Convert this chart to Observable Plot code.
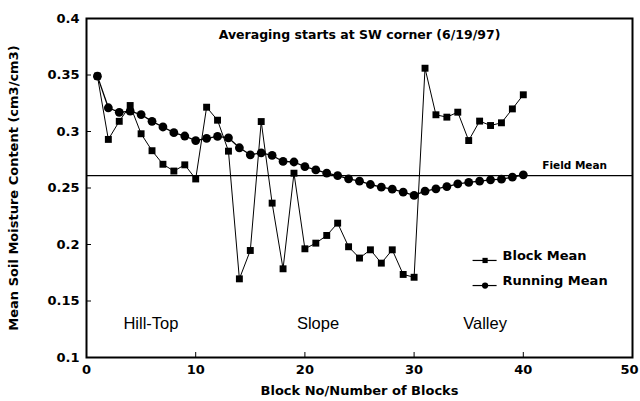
<!DOCTYPE html>
<html>
<head>
<meta charset="utf-8">
<script src="https://cdn.jsdelivr.net/npm/d3@7"></script>
<script src="https://cdn.jsdelivr.net/npm/@observablehq/plot@0.6"></script>
<style>
  html, body { margin: 0; padding: 0; background: #fff; }
</style>
</head>
<body>
<div id="chart"></div>
<script>
const blockNo = d3.range(1, 41);
const blockMean = [0.349, 0.293, 0.309, 0.323, 0.298, 0.283, 0.271, 0.265, 0.2705, 0.258,
  0.3215, 0.310, 0.2826, 0.1696, 0.1947, 0.3088, 0.2366, 0.1785, 0.2631, 0.1962,
  0.2012, 0.208, 0.2189, 0.198, 0.188, 0.1953, 0.1835, 0.1953, 0.1735, 0.171,
  0.356, 0.3148, 0.3127, 0.3171, 0.292, 0.3092, 0.3053, 0.3077, 0.320, 0.3325];
const runningMean = [0.349, 0.321, 0.317, 0.318, 0.315, 0.309, 0.304, 0.299, 0.296, 0.292,
  0.294, 0.2956, 0.2944, 0.2856, 0.2794, 0.2811, 0.2788, 0.2735, 0.273, 0.269,
  0.266, 0.2631, 0.261, 0.2581, 0.256, 0.2531, 0.2507, 0.249, 0.2463, 0.2434,
  0.2472, 0.2493, 0.2513, 0.2537, 0.2549, 0.256, 0.2572, 0.2578, 0.2596, 0.2617];
const fieldMean = 0.261;
const xTicks = [0, 10, 20, 30, 40, 50];
const yTicks = [0.1, 0.15, 0.2, 0.25, 0.3, 0.35, 0.4];
const yTickLabels = ["0.1", "0.15", "0.2", "0.25", "0.3", "0.35", "0.4"];
const regions = ["Hill-Top", "Slope", "Valley"];
const regionX = [5.9, 21.2, 36.5];
const regionY = 0.13;
const titleText = "Averaging starts at SW corner (6/19/97)";
const xTitle = "Block No/Number of Blocks";
const yTitle = "Mean Soil Moisture Content (cm3/cm3)";
const legendNames = ["Block Mean", "Running Mean"];
const legendY = [0.1903, 0.1681];

const blocks = blockNo.map((b, i) => ({b, v: blockMean[i]}));
const running = blockNo.map((b, i) => ({b, v: runningMean[i]}));
const legend = legendNames.map((name, i) => ({name, y: legendY[i], symbol: i === 0 ? "square" : "circle"}));

const W = 640, H = 401, ML = 86, MR = 8, MT = 18, MB = 44;
const plotW = W - ML - MR, plotH = H - MT - MB, tickLen = 5;
const bold = "DejaVu Sans, Liberation Sans, Arial, sans-serif";
const lastX = xTicks[xTicks.length - 1];

const chart = Plot.plot({
  width: W,
  height: H,
  marginLeft: ML,
  marginRight: MR,
  marginTop: MT,
  marginBottom: MB,
  style: {background: "#fff", fontFamily: bold, fontWeight: "bold", fontSize: "13px", color: "#000"},
  x: {domain: [0, 50]},
  y: {domain: [0.1, 0.4]},
  marks: [
    Plot.axisX({ticks: xTicks.slice(0, -1), tickSize: 0, tickPadding: 7, tickFormat: d => String(d),
      label: xTitle, labelAnchor: "center", labelArrow: "none", labelOffset: 37, fontSize: 13, fontWeight: "bold"}),
    Plot.axisX({ticks: [lastX], tickSize: 0, tickPadding: 7, tickFormat: d => String(d), dx: -3,
      label: null, fontSize: 13, fontWeight: "bold"}),
    Plot.axisY({ticks: yTicks, tickSize: 0, tickPadding: 7, tickFormat: d => yTickLabels[yTicks.indexOf(d)],
      label: yTitle, labelAnchor: "center", labelArrow: "none", labelOffset: 78, fontSize: 13, fontWeight: "bold"}),
    Plot.tickY(yTicks, {y: d => d, insetRight: plotW - tickLen, stroke: "#000", strokeWidth: 1}),
    Plot.tickX(xTicks, {x: d => d, insetTop: plotH - tickLen, stroke: "#000", strokeWidth: 1}),
    Plot.ruleY([fieldMean], {stroke: "#000", strokeWidth: 1.3}),
    Plot.line(blocks, {x: "b", y: "v", stroke: "#000", strokeWidth: 1}),
    Plot.dot(blocks, {x: "b", y: "v", symbol: "square", r: 3.9, fill: "#000", stroke: "none"}),
    Plot.line(running, {x: "b", y: "v", stroke: "#000", strokeWidth: 1.3}),
    Plot.dot(running, {x: "b", y: "v", symbol: "circle", r: 4.4, fill: "#000", stroke: "none"}),
    Plot.text([titleText], {frameAnchor: "top", dx: 0, dy: 12, fontSize: 12.5, fontWeight: "bold", fill: "#000"}),
    Plot.text(["Field Mean"], {x: 44.7, y: fieldMean, dy: -10, fontSize: 10.5, fontWeight: "bold", fill: "#000"}),
    Plot.text(regions, {x: (d, i) => regionX[i], y: () => regionY, fontSize: 16.5, fontWeight: "normal",
      fontFamily: "Liberation Sans, Arial, sans-serif", fill: "#000"}),
    Plot.ruleY(legend, {y: "y", x1: 35.4, x2: 37.6, stroke: "#000", strokeWidth: 1.2, dy: 5}),
    Plot.dot(legend, {x: 36.5, y: "y", dy: 5, symbol: "symbol", r: d => d.symbol === "square" ? 3.9 : 4.4, fill: "#000", stroke: "none"}),
    Plot.text(legend, {x: 38.1, y: "y", text: "name", textAnchor: "start", fontSize: 13, fontWeight: "bold", fill: "#000"}),
    Plot.frame({stroke: "#000", strokeWidth: 2})
  ]
});
document.getElementById("chart").appendChild(chart);
</script>
</body>
</html>
